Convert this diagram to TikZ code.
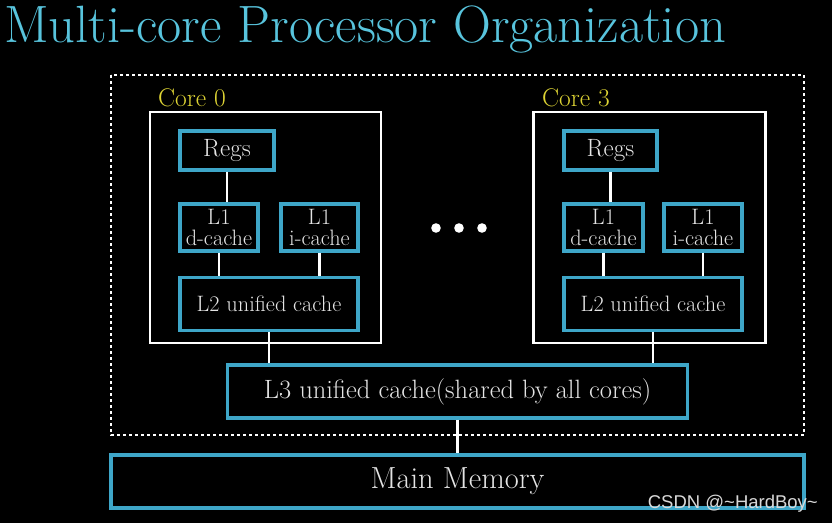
\documentclass[tikz,border=0pt]{standalone}
\usepackage{fontspec}
\newfontfamily\wmfont{Liberation Sans}
\definecolor{titleblue}{RGB}{88,196,221}
\definecolor{cacheblue}{RGB}{62,166,200}
\definecolor{coreyellow}{RGB}{222,212,52}
\definecolor{boxtext}{RGB}{228,228,228}
\tikzset{
  cache/.style={draw=cacheblue,line width=3.1pt,fill=black,text=boxtext,align=center,inner sep=0pt},
  core/.style={draw=white,line width=2.6pt},
  link/.style={draw=white,line width=2.2pt},
  corelabel/.style={text=coreyellow,anchor=base west,inner sep=0pt,font=\fontsize{25.5}{26}\selectfont}
}
\begin{document}
\begin{tikzpicture}[x=1pt,y=-1pt, every node/.style={font=\fontsize{22.3}{20.5}\selectfont}]
\fill[black] (0,0) rectangle (832,523);
\useasboundingbox (0,0) rectangle (832,523);
% title
\node[anchor=base west,inner sep=0pt,text=titleblue,font=\fontsize{52.5}{54}\selectfont] (title) at (4,42) {Multi-core Processor Organization};
% chip outline
\draw[white,line width=2.8pt,dash pattern=on 2.6pt off 3.4pt] (111,75) rectangle (804,435);
% core 0
\node[core,minimum width=231pt,minimum height=231pt] (core0) at (265.5,227.5) {};
\node[corelabel] (lab0) at (158,106) {Core 0};
\node[cache,minimum width=94pt,minimum height=39pt,font=\fontsize{25}{26}\selectfont] (regs0) at (227,150.5) {Regs};
\node[cache,minimum width=78pt,minimum height=47pt] (dc0) at (219,227.5) {L1\\d-cache};
\node[cache,minimum width=77pt,minimum height=47pt] (ic0) at (319.5,227.5) {L1\\i-cache};
\node[cache,minimum width=178pt,minimum height=53pt] (ltwo0) at (269,304) {L2 unified cache};
\draw[link] (regs0.south) -- (regs0.south |- dc0.north);
\draw[link] (dc0.south) -- (dc0.south |- ltwo0.north); \draw[link] (ic0.south) -- (ic0.south |- ltwo0.north);
% dots
\foreach \x in {436,459,482} \fill[white] (\x,228) circle (4.8pt);
% core 3
\node[core,minimum width=232pt,minimum height=231pt] (core3) at (649.5,227.5) {};
\node[corelabel] (lab3) at (542,106) {Core 3};
\node[cache,minimum width=93pt,minimum height=39pt,font=\fontsize{25}{26}\selectfont] (regs3) at (610.5,150.5) {Regs};
\node[cache,minimum width=79pt,minimum height=47pt] (dc3) at (603.5,227.5) {L1\\d-cache};
\node[cache,minimum width=78pt,minimum height=47pt] (ic3) at (703,227.5) {L1\\i-cache};
\node[cache,minimum width=178pt,minimum height=53pt] (ltwo3) at (653,304) {L2 unified cache};
\draw[link] (regs3.south) -- (regs3.south |- dc3.north);
\draw[link] (dc3.south) -- (dc3.south |- ltwo3.north); \draw[link] (ic3.south) -- (ic3.south |- ltwo3.north);
% shared cache and memory
\node[cache,minimum width=460pt,minimum height=53pt,font=\fontsize{26.5}{27}\selectfont] (lthree) at (457.5,391.5) {L3 unified cache(shared by all cores)};
\node[cache,minimum width=693pt,minimum height=53pt,font=\fontsize{30.5}{31}\selectfont] (mem) at (457.5,481.5) {Main Memory};
\draw[link] (ltwo0.south) -- (ltwo0.south |- lthree.north); \draw[link] (ltwo3.south) -- (ltwo3.south |- lthree.north);
\draw[link] (lthree.south) -- (mem.north);
% watermark
\node[anchor=base east,inner sep=0pt,text=white!85!black,font=\wmfont\fontsize{18.5}{19}\selectfont] (mark) at (818,508) {CSDN @\textasciitilde HardBoy\textasciitilde};
\end{tikzpicture}
\end{document}
